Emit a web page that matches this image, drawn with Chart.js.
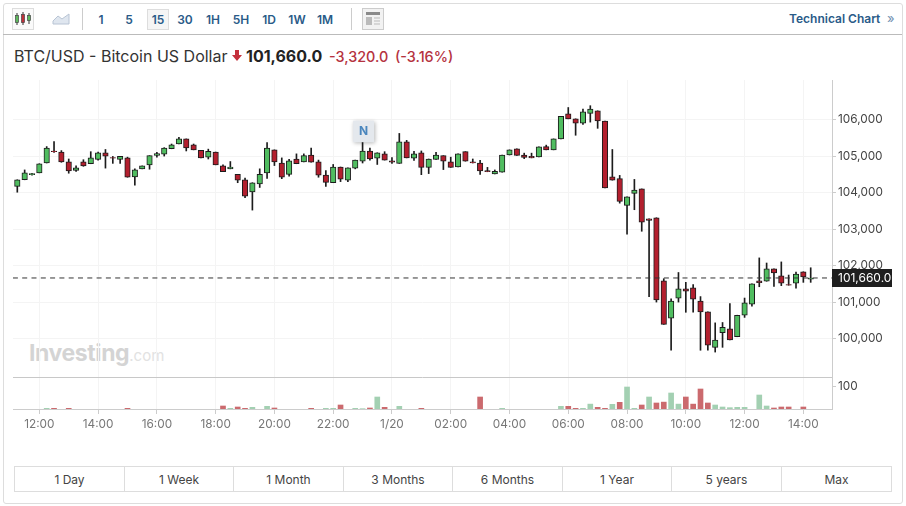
<!DOCTYPE html>
<html><head><meta charset="utf-8">
<script src="https://cdn.jsdelivr.net/npm/chart.js@4"></script>
<style>
html,body{margin:0;padding:0;background:#fff;width:906px;height:506px;overflow:hidden;font-family:Inter,sans-serif}
#card{position:absolute;left:3px;top:3px;width:898px;height:499px;border:1px solid #ddd;border-radius:3px;box-sizing:content-box}
.abs{position:absolute;white-space:nowrap}
#tb{position:absolute;left:3px;top:34px;width:899px;height:1px;background:#bbb}
.tf{position:absolute;top:9px;width:22px;height:21px;line-height:21px;text-align:center;font:600 12px/21px Inter,sans-serif;color:#2a5b88}
.sep{position:absolute;top:8px;width:1px;height:22px;background:#ccc}
.rng{position:absolute;top:466px;height:26px;line-height:26px;text-align:center;font:12px/26px Inter,sans-serif;color:#444;border:1px solid #ddd;box-sizing:border-box;margin-right:-1px}
canvas{position:absolute;left:0;top:0}
</style></head><body>
<div id="card"></div>
<div id="tb"></div>
<svg class="abs" style="left:12px;top:8px" width="22" height="22"><rect x=".5" y=".5" width="21" height="21" fill="#fafafa" stroke="#ddd"/><path d="M5 5v12M11 4v13M17 5v11" stroke="#333"/><rect x="3.5" y="7.5" width="3" height="7" fill="#5cb85c" stroke="#444" stroke-width=".7"/><rect x="9.5" y="6.5" width="3" height="8" fill="#c0303a" stroke="#444" stroke-width=".7"/><rect x="15.5" y="7.5" width="3" height="5" fill="#5cb85c" stroke="#444" stroke-width=".7"/></svg>
<svg class="abs" style="left:52px;top:12px" width="18" height="14"><path d="M1 12L1 9L6 4L10 7L17 2L17 12Z" fill="#dfe6ef" stroke="#b8c4d4"/></svg>
<div class="sep" style="left:82px"></div>
<div class="tf" style="left:90px">1</div><div class="tf" style="left:118px">5</div>
<div class="tf" style="left:147px;background:#f5f5f5;border:1px solid #ddd;box-sizing:border-box;line-height:19px">15</div>
<div class="tf" style="left:174px">30</div><div class="tf" style="left:202px">1H</div><div class="tf" style="left:230px">5H</div><div class="tf" style="left:258px">1D</div><div class="tf" style="left:286px">1W</div><div class="tf" style="left:314px">1M</div>
<div class="sep" style="left:351px"></div>
<svg class="abs" style="left:362px;top:8px" width="22" height="22"><rect x=".5" y=".5" width="21" height="21" fill="#f2f2f2" stroke="#ccc"/><rect x="4" y="4" width="14" height="3" fill="#8a8a8a"/><rect x="4" y="9" width="6" height="8" fill="#bbb"/><path d="M12 10h6M12 13h6M12 16h6" stroke="#bbb"/></svg>
<div class="abs" style="left:789px;top:11px;font:600 12px/16px Inter,sans-serif;color:#2a5b88">Technical Chart</div>
<div class="abs" style="left:887px;top:10px;font:13px/16px Inter,sans-serif;color:#6f8fb0">»</div>
<div class="abs" style="left:14px;top:46px;font:16px/20px Inter,sans-serif;color:#333">BTC/USD - Bitcoin US Dollar</div>
<svg class="abs" style="left:232px;top:50px" width="10" height="11"><path d="M3 0h4v5h3L5 11L0 5h3z" fill="#c4303c"/></svg>
<div class="abs" style="left:246px;top:46px;font:700 16px/20px Inter,sans-serif;color:#222">101,660.0</div>
<div class="abs" style="left:329px;top:47px;font:500 14.4px/19px Inter,sans-serif;color:#b5333f">-3,320.0</div>
<div class="abs" style="left:395px;top:47px;font:500 14.4px/19px Inter,sans-serif;color:#b5333f">(-3.16%)</div>
<div class="abs" style="left:29px;top:339px;font:700 23px/28px Inter,sans-serif;color:#d4d4d4;letter-spacing:-.4px">Investing<span style="font:400 15px/28px Inter,sans-serif;color:#e2e2e2;letter-spacing:0">.com</span></div>
<canvas id="c" width="906" height="440" style="width:906px;height:440px"></canvas>
<div class="rng" style="left:14px;width:111px">1 Day</div><div class="rng" style="left:124px;width:110px">1 Week</div><div class="rng" style="left:233px;width:111px">1 Month</div><div class="rng" style="left:343px;width:110px">3 Months</div><div class="rng" style="left:452px;width:111px">6 Months</div><div class="rng" style="left:562px;width:110px">1 Year</div><div class="rng" style="left:671px;width:111px">5 years</div><div class="rng" style="left:781px;width:111px">Max</div>
<script>
const tickPositions=[3,11,19,27,35,43,51,59,67,75,83,91,99,107];
const tickLabels=['12:00','14:00','16:00','18:00','20:00','22:00','1/20','02:00','04:00','06:00','08:00','10:00','12:00','14:00'];
const priceTicks=[100000,101000,102000,103000,104000,105000,106000];
const lastPrice=101660;
const newsBar=47;
const opens=[104170,104350,104490,104540,104810,105140,105110,104840,104610,104840,
104790,104910,105090,104960,104910,104950,104430,104650,104760,105020,
105050,105200,105330,105470,105310,105160,104970,105110,104730,104650,
104500,104350,104020,104240,104540,105170,104810,104500,104920,104840,
105030,104840,104480,104270,104700,104340,104670,104860,105140,104940,
105060,104870,104800,105390,104940,105090,104690,104910,105010,104840,
104700,105120,104840,104810,104600,104510,104560,105030,105200,105030,
104990,104980,105260,105170,105470,106160,106020,105900,106170,106240,
105960,104430,104380,103650,103980,104100,103280,103310,101580,100560,
101110,101360,101390,101030,100730,99760,100160,100270,100050,100640,
100940,101580,101570,101910,101720,101480,101520,101830,101630];
const highs=[104350,104620,104530,104790,105260,105400,105150,104920,104730,104900,
105120,105110,105180,104990,104990,104970,104650,104730,105010,105100,
105230,105330,105510,105470,105330,105160,105190,105110,104760,104850,
104500,104400,104270,104650,105370,105170,104950,104910,105060,105060,
105220,104890,104600,104770,104700,104680,104890,105380,105220,105090,
105120,104960,105620,105430,105130,105140,104920,105100,105010,104970,
105060,105120,104920,104880,104690,104620,105030,105170,105200,105080,
105080,105250,105300,105470,106090,106330,106020,106290,106380,106240,
105960,105180,104470,103880,104360,104100,103280,103310,101640,101090,
101810,101540,101480,101150,100730,100430,100440,100960,100640,101110,
101500,102210,102070,101910,102100,101740,101820,101830,101940];
const lows=[104010,104350,104480,104540,104810,105100,104830,104530,104580,104720,
104790,104890,104670,104800,104800,104420,104200,104650,104640,104970,
105000,105200,105330,105140,105170,104950,104920,104760,104570,104650,
104270,103860,103520,104140,104390,104740,104380,104450,104790,104840,
104830,104420,104170,104270,104300,104300,104650,104810,104890,104770,
104890,104800,104800,104950,104880,104490,104520,104910,104630,104690,
104700,104860,104810,104500,104570,104510,104560,105030,105020,104930,
104950,104980,105170,105170,105470,106020,105570,105870,105930,105760,
104130,104340,103710,102860,103530,102940,101150,101000,100390,99680,
101000,100720,100720,99680,99680,99630,99760,99960,100050,100580,
100890,101420,101570,101430,101450,101460,101380,101540,101540];
const closes=[104350,104540,104520,104790,105220,105120,104840,104590,104680,104730,
104950,105090,105000,104940,104990,104420,104620,104730,105010,105070,
105220,105310,105470,105220,105170,104950,105130,104760,104570,104700,
104340,103900,104270,104500,105220,104840,104420,104870,104790,105010,
104830,104480,104280,104700,104370,104680,104890,105140,104920,105090,
104890,104830,105390,104950,105060,104690,104920,105030,104860,104690,
105060,104860,104810,104590,104570,104580,105030,105170,105020,104960,
104950,105250,105170,105470,106090,106020,105900,106210,106290,105960,
104130,104340,103760,103880,104070,103190,103240,101060,100390,101030,
101360,101300,101080,100730,99820,99960,100310,99960,100640,100980,
101500,101530,101910,101800,101520,101460,101770,101690,101660];
const volumesUp=[0,0,0,0,3,0,0,0,0,0,
0,0,0,0,0,0,0,0,0,0,
0,0,0,0,0,0,0,0,0,3,
0,0,7.5,0,12,0,0,0,0,0,
0,0,3,3,0,0,3,1.5,0,54,
0,0,12,0,0,0,0,0,0,0,
0,0,0,0,0,0,3,0,0,0,
0,0,0,0,12,0,0,3,22,0,
0,21,0,99,3,0,54,0,0,72,
22,0,0,0,0,18,9,6,7.5,7.5,
0,63,13.5,0,0,0,0,0,0];
const volumesDown=[0,0,0,0,0,3,0,3,0,0,
0,0,0,0,0,3,0,0,0,0,
0,0,0,0,0,0,0,0,13.5,0,
9,3,0,0,0,4.5,0,0,0,0,
3,0,0,0,18,0,0,0,4.5,0,
7.5,0,0,0,0,3,0,0,0,0,
0,0,0,54,0,0,0,0,0,0,
0,0,0,0,0,12,3,0,0,7.5,
3,0,30,0,0,18,0,27,31,0,
0,54,22,90,27,0,0,0,0,0,
0,0,0,4.5,9,9,0,9,0];

const upColor='#50bd60',downColor='#b31f2e',edge='#1c1c1c';
const idx=opens.map((_,i)=>i);
const overlay={id:'overlay',afterDraw(ch){
  const c=ch.ctx,{x,y,vol}=ch.scales,a=ch.chartArea;
  c.save();
  c.strokeStyle='#c8c8c8';c.lineWidth=1;c.beginPath();c.moveTo(a.left,Math.round(y.bottom)+.5);c.lineTo(a.right,Math.round(y.bottom)+.5);c.stroke();
  const py=y.getPixelForValue(lastPrice);
  c.fillStyle='#1f1f1f';c.fillRect(a.right,Math.round(py)-9,60,18);
  c.fillStyle='#fff';c.font='12px Inter, sans-serif';c.textAlign='left';c.textBaseline='middle';
  c.fillText(lastPrice.toLocaleString('en-US',{minimumFractionDigits:1}),a.right+6,py+.5);
  const nx=x.getPixelForValue(newsBar)+1,nb=y.getPixelForValue(highs[newsBar]);
  c.shadowColor='rgba(0,0,0,.3)';c.shadowBlur=4;c.shadowOffsetX=1;c.shadowOffsetY=1;
  c.fillStyle='#e4e8ed';c.fillRect(nx-10.5,nb-21.5,21,21.5);
  c.shadowColor='transparent';
  c.fillStyle='#4a86bd';c.font='700 12px Inter, sans-serif';c.textAlign='center';
  c.fillText('N',nx,nb-11);
  c.restore();
}};
new Chart(document.getElementById('c'),{
 type:'bar',
 plugins:[overlay],
 data:{datasets:[
  {type:'line',order:0,data:[{x:-0.6,y:lastPrice},{x:111,y:lastPrice}],xAxisID:'x',yAxisID:'y',borderColor:'#333',borderWidth:1,borderDash:[5,4.3],pointRadius:0,fill:false},
  {order:1,grouped:false,data:idx.map(i=>({x:i,y:[opens[i],closes[i]]})),xAxisID:'x',yAxisID:'y',barThickness:5.5,borderWidth:1,borderSkipped:false,borderColor:edge,
    backgroundColor:idx.map(i=>closes[i]>=opens[i]?upColor:downColor)},
  {order:2,grouped:false,data:idx.map(i=>({x:i,y:[lows[i],highs[i]]})),xAxisID:'x',yAxisID:'y',barThickness:1,borderWidth:0,backgroundColor:edge},
  {order:3,grouped:false,data:idx.map(i=>({x:i,y:volumesUp[i]||null})),xAxisID:'x',yAxisID:'vol',barThickness:5,borderWidth:0,backgroundColor:'#a3d0b2'},
  {order:3,grouped:false,data:idx.map(i=>({x:i,y:volumesDown[i]||null})),xAxisID:'x',yAxisID:'vol',barThickness:5,borderWidth:0,backgroundColor:'#cb6a6e'}
 ]},
 options:{
  responsive:false,animation:false,
  layout:{padding:{left:13,top:80,right:0,bottom:0}},
  plugins:{legend:{display:false},tooltip:{enabled:false},title:{display:false}},
  scales:{
   x:{type:'linear',offset:false,min:-0.586,max:110.9,
      grid:{offset:false,color:'#f4f4f4',tickColor:'#ccc',tickLength:5,drawTicks:true},
      border:{color:'#ccc'},
      afterBuildTicks(s){s.ticks=tickPositions.map(v=>({value:v}));},
      afterFit(s){s.height=31;},
      ticks:{autoSkip:false,maxRotation:0,color:'#777',padding:3,font:{family:'Inter',size:11.8},
        callback:(v)=>tickLabels[tickPositions.indexOf(v)]}},
   y:{position:'right',stack:'p',stackWeight:297,weight:1,min:98947,max:107084,
      grid:{color:'#f4f4f4',tickColor:'#ccc',tickLength:4},border:{color:'#ccc'},
      afterBuildTicks(s){s.ticks=priceTicks.map(v=>({value:v}));},
      afterFit(s){s.width=74;},
      ticks:{color:'#444',padding:2,font:{family:'Inter',size:11.8},callback:v=>v.toLocaleString('en-US')}},
   vol:{position:'right',stack:'p',stackWeight:32,weight:2,min:0,max:144,offset:false,
      grid:{display:true,color:'transparent',tickColor:'#ccc',tickLength:4},border:{color:'#ccc'},
      afterBuildTicks(s){s.ticks=[{value:100}];},
      afterFit(s){s.width=74;},
      ticks:{color:'#444',padding:2,font:{family:'Inter',size:11.8}}}
  }
 }
});
</script>
</body></html>
